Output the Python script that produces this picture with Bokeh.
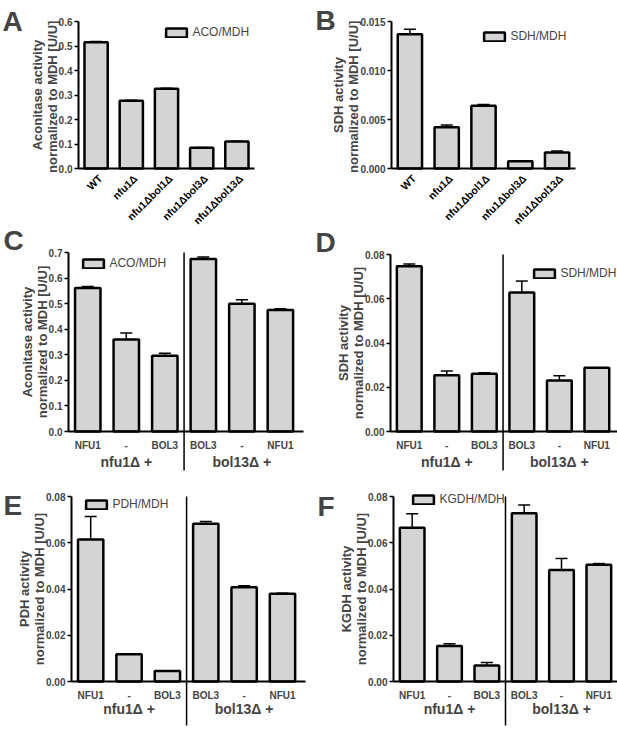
import math
from bokeh.plotting import figure
from bokeh.models import (ColumnDataSource, FixedTicker, LinearAxis, Range1d, Whisker,
                          TeeHead, Legend, LegendItem, Label, NumeralTickFormatter)
from bokeh.core.properties import value
from bokeh.layouts import column, row
from bokeh.embed import file_html
from bokeh.resources import INLINE

# ---------------- data ----------------
strains_ab = ["WT", "nfu1Δ", "nfu1Δbol1Δ", "nfu1Δbol3Δ", "nfu1Δbol13Δ"]
aco_a = [0.515, 0.277, 0.326, 0.085, 0.110]
aco_a_err = [0.003, 0.002, 0.002, 0.001, 0.001]
sdh_b = [0.0137, 0.0042, 0.0064, 0.00075, 0.00163]
sdh_b_err = [0.0005, 0.00024, 0.00013, 0.00003, 0.00015]

constructs = ["NFU1", "-", "BOL3", "BOL3", "-", "NFU1"]
groups = ["nfu1Δ +", "bol13Δ +"]
aco_c = [0.561, 0.360, 0.296, 0.675, 0.500, 0.475]
aco_c_err = [0.006, 0.025, 0.010, 0.007, 0.015, 0.005]
sdh_d = [0.0747, 0.0254, 0.0261, 0.0628, 0.0231, 0.0288]
sdh_d_err = [0.0010, 0.0019, 0.0005, 0.0052, 0.0021, 0.0]
pdh_e = [0.0614, 0.0118, 0.0045, 0.0682, 0.0408, 0.0379]
pdh_e_err = [0.0100, 0.0, 0.0001, 0.0010, 0.0006, 0.0003]
kgdh_f = [0.0665, 0.0154, 0.0069, 0.0728, 0.0482, 0.0505]
kgdh_f_err = [0.0060, 0.0009, 0.0013, 0.0035, 0.0050, 0.0005]

ticks_a = [0.0, 0.1, 0.2, 0.3, 0.4, 0.5, 0.6]
ticks_b = [0.0, 0.005, 0.010, 0.015]
ticks_c = [0.0, 0.1, 0.2, 0.3, 0.4, 0.5, 0.6, 0.7]
ticks_def = [0.0, 0.02, 0.04, 0.06, 0.08]

FONT = "Liberation Sans"
BAR_FILL = "#d4d4d4"


def make_panel(letter, values, errs, labels, series_name, ylabel, yticks, yfmt,
               W, H, L, FW, xspan, T, Z, legend_pos, letter_pos, grouped,
               div_bottom=None, group_standoff=16):
    """W,H: figure size; L: y-axis pixel; FW: pixel width of [0,xspan];
    T: pixel of top tick; Z: pixel of zero line."""
    ymax = yticks[-1]
    ppx = FW / xspan
    ppy = (Z - T) / ymax
    xr = Range1d(-L / ppx, (W - L) / ppx)
    yr = Range1d(-(H - Z) / ppy, ymax + T / ppy)
    p = figure(width=W, height=H, x_range=xr, y_range=yr,
               min_border_left=0, min_border_right=0, min_border_top=0, min_border_bottom=0,
               output_backend="svg", toolbar_location=None)
    p.outline_line_color = None
    p.grid.visible = False
    p.background_fill_color = "white"
    p.border_fill_color = "white"

    n = len(values)
    xs = [i + 0.5 for i in range(n)]
    src = ColumnDataSource(dict(x=xs, top=values, lab=labels, zero=[0.0] * n,
                                upper=[v + e for v, e in zip(values, errs)]))
    r = p.vbar(x="x", top="top", bottom=0, width=0.66, source=src,
               fill_color=BAR_FILL, line_color="black", line_width=2.5)
    wh = Whisker(base="x", lower="top", upper="upper", source=src,
                 dimension="height", line_color="black", line_width=1.5,
                 upper_head=TeeHead(size=12, line_color="black", line_width=1.5),
                 lower_head=None)
    p.add_layout(wh)

    # y axis
    ya = p.yaxis[0]
    ya.fixed_location = 0
    ya.ticker = FixedTicker(ticks=yticks)
    ya.formatter = NumeralTickFormatter(format=yfmt)
    ya.bounds = (0, ymax)
    ya.axis_line_width = 2
    ya.major_tick_line_width = 1.5
    ya.major_tick_out = 4
    ya.major_tick_in = 0
    ya.minor_tick_line_color = None
    ya.major_label_standoff = 2
    ya.major_label_text_font = FONT
    ya.major_label_text_font_style = "bold"
    ya.major_label_text_font_size = "10px"
    ya.axis_label = ylabel
    ya.axis_label_text_font = FONT
    ya.axis_label_text_font_style = "bold"
    ya.axis_label_text_font_size = "13px"
    ya.axis_label_text_line_height = 1.0
    ya.axis_label_standoff = -4

    # x axis
    xa = p.xaxis[0]
    xa.fixed_location = 0
    xa.bounds = (0, xspan)
    xa.axis_line_width = 2
    xa.major_tick_line_color = None
    xa.minor_tick_line_color = None
    xa.major_label_text_font = FONT
    xa.major_label_text_font_style = "bold"

    if grouped:
        xa.ticker = FixedTicker(ticks=xs)
        xa.major_label_overrides = {x: lab for x, lab in zip(xs, labels)}
        xa.major_label_standoff = 2
        xa.major_label_text_font_size = "10px"
        half = n // 2
        gx = [sum(xs[:half]) / half, sum(xs[half:]) / (n - half)]
        ga = LinearAxis(fixed_location=0, ticker=FixedTicker(ticks=gx),
                        major_label_overrides={x: g for x, g in zip(gx, groups)},
                        axis_line_color=None, major_tick_line_color=None,
                        minor_tick_line_color=None, major_label_standoff=group_standoff,
                        major_label_text_font=FONT, major_label_text_font_style="bold",
                        major_label_text_font_size="14px")
        p.add_layout(ga, "below")
        div = (xs[half - 1] + xs[half]) / 2
        y0 = -(div_bottom - Z) / ppy
        p.segment(x0=[div], y0=[y0], x1=[div], y1=[ymax],
                  line_color="black", line_width=1.5)
    else:
        xa.ticker = FixedTicker(ticks=[])
        p.text(x="x", y="zero", text="lab", source=src, angle=math.pi / 4,
               text_align="right", text_baseline="middle", x_offset=4, y_offset=8,
               text_font=value(FONT), text_font_style="bold", text_font_size="10.5px",
               text_color="black")

    bx, cy = legend_pos
    leg = Legend(items=[LegendItem(label=series_name, renderers=[r])],
                 location=(bx - 2.6, H - cy - 8), orientation="vertical",
                 border_line_color=None, background_fill_alpha=0,
                 padding=0, margin=0, spacing=0, glyph_width=26, glyph_height=11,
                 label_standoff=3, label_height=11, label_text_font=FONT,
                 label_text_font_size="12px")
    p.add_layout(leg)

    lx, ly = letter_pos
    p.add_layout(Label(x=lx, y=H - ly + 12, x_units="screen", y_units="screen",
                       text=letter, text_font=FONT, text_font_style="bold",
                       text_font_size="28px", text_align="left",
                       text_baseline="alphabetic"))
    return p


# row 1: y 0..226, row 2: 226..472, row 3: 472..733
pA = make_panel("A", aco_a, aco_a_err, strains_ab, "ACO/MDH",
                "Aconitase activity\nnormalized to MDH  [U/U]", ticks_a, "0.0",
                308, 226, 78, 176, 5, 21, 168, (166, 31), (2, 33), False)
pB = make_panel("B", sdh_b, sdh_b_err, strains_ab, "SDH/MDH",
                "SDH activity\nnormalized to MDH  [U/U]", ticks_b, "0.000",
                309, 226, 83, 184, 5, 21, 168, (176, 35), (7, 32), False)
pC = make_panel("C", aco_c, aco_c_err, constructs, "ACO/MDH",
                "Aconitase activity\nnormalized to MDH [U/U]", ticks_c, "0.0",
                308, 246, 68, 235, 6.1, 26, 205, (83, 36), (3, 26), True, div_bottom=244)
pD = make_panel("D", sdh_d, sdh_d_err, constructs, "SDH/MDH",
                "SDH activity\nnormalized to MDH [U/U]", ticks_def, "0.00",
                309, 246, 82, 227, 6.05, 28, 205, (226, 46), (7, 28), True, div_bottom=244)
pE = make_panel("E", pdh_e, pdh_e_err, constructs, "PDH/MDH",
                "PDH activity\nnormalized to MDH [U/U]", ticks_def, "0.00",
                308, 261, 71, 234, 6.1, 24, 209, (86, 31), (3, 45), True,
                div_bottom=253, group_standoff=13)
pF = make_panel("F", kgdh_f, kgdh_f_err, constructs, "KGDH/MDH",
                "KGDH activity\nnormalized to MDH [U/U]", ticks_def, "0.00",
                309, 261, 85, 224, 6.0, 24, 209, (105, 26), (9, 46), True,
                div_bottom=253, group_standoff=13)

layout = column(row(pA, pB), row(pC, pD), row(pE, pF))
open("out.html", "w").write(file_html(layout, INLINE))
